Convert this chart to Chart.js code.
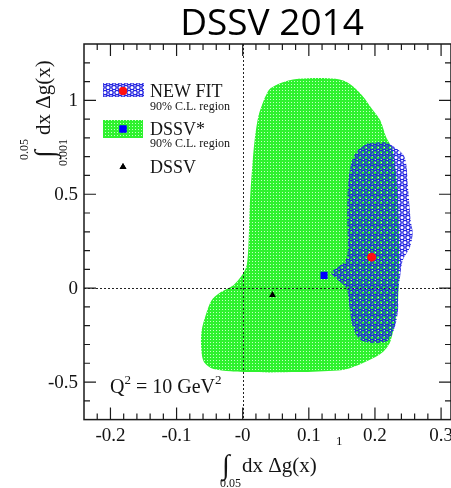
<!DOCTYPE html>
<html>
<head>
<meta charset="utf-8">
<script src="https://cdn.jsdelivr.net/npm/chart.js@4.4.1/dist/chart.umd.min.js"></script>
<style>
  html, body { margin: 0; padding: 0; background: #fff; overflow: hidden; }
  canvas { display: block; }
</style>
</head>
<body>
<canvas id="chart" width="456" height="488"></canvas>
<script>
// ── data ──────────────────────────────────────────────
// 90% C.L. region of DSSV* (green) and of the new fit (blue), as [x, y]
const dssvStarRegion = [
  [0.033, 1.011], [0.042, 1.064], [0.069, 1.106], [0.099, 1.117], [0.129, 1.117],
  [0.152, 1.106], [0.167, 1.074], [0.182, 1.021], [0.195, 0.957], [0.208, 0.894],
  [0.217, 0.803], [0.227, 0.734], [0.235, 0.468], [0.235, -0.064], [0.224, -0.277],
  [0.212, -0.340], [0.190, -0.385], [0.162, -0.426], [0.144, -0.438], [0.084, -0.447],
  [0.009, -0.447], [-0.044, -0.430], [-0.059, -0.390], [-0.063, -0.303], [-0.062, -0.223],
  [-0.056, -0.144], [-0.047, -0.064], [-0.033, -0.021], [-0.014, 0.016], [-0.002, 0.064],
  [0.006, 0.122], [0.009, 0.255], [0.011, 0.468], [0.014, 0.628], [0.018, 0.787],
  [0.024, 0.920], [0.033, 1.011]
];
const newFitRegion = [
  [0.189, 0.771], [0.215, 0.777], [0.230, 0.750], [0.245, 0.697], [0.250, 0.537],
  [0.254, 0.362], [0.257, 0.293], [0.253, 0.218], [0.242, 0.149], [0.238, 0.059],
  [0.235, -0.027], [0.235, -0.117], [0.230, -0.207], [0.220, -0.277], [0.200, -0.293],
  [0.179, -0.277], [0.170, -0.239], [0.164, -0.170], [0.159, -0.027], [0.156, 0.005],
  [0.144, 0.043], [0.134, 0.080], [0.144, 0.112], [0.156, 0.149], [0.159, 0.218],
  [0.158, 0.362], [0.159, 0.537], [0.164, 0.665], [0.174, 0.734], [0.189, 0.771]
];
const newFitPoint = [[0.195, 0.165]];
const dssvStarPoint = [[0.123, 0.068]];
const dssvPoint = [[0.045, -0.037]];

const xTickValues = [-0.2, -0.1, 0, 0.1, 0.2, 0.3];
const xTickLabels = ['-0.2', '-0.1', '-0', '0.1', '0.2', '0.3'];
const yTickValues = [-0.5, 0, 0.5, 1];
const yTickLabels = ['-0.5', '0', '0.5', '1'];

const legendNames = ['NEW FIT', 'DSSV*', 'DSSV'];
const legendNote = '90% C.L. region';
const chartTitle = 'DSSV 2014';

const INK = '#141414';
const SERIF = '"Liberation Serif", "Times New Roman", serif';

// ── fill patterns ─────────────────────────────────────
const canvas = document.getElementById('chart');
const ctx = canvas.getContext('2d');

function greenPattern() {
    const c = document.createElement('canvas');
    c.width = 3; c.height = 3;
    const g = c.getContext('2d');
    g.fillStyle = '#2ef22e';
    g.fillRect(0, 0, 3, 3);
    g.fillStyle = '#c4ffc4';
    g.fillRect(0, 0, 1, 1);
    return ctx.createPattern(c, 'repeat');
}

function bluePattern() {
    const c = document.createElement('canvas');
    c.width = 6; c.height = 10;
    const g = c.getContext('2d');
    g.strokeStyle = '#2020e0';
    g.lineWidth = 1.3;
    [[3, 2.5], [0, 7.5], [6, 7.5]].forEach(([cx, cy]) => {
        g.beginPath();
        g.arc(cx, cy, 2.2, 0, Math.PI * 2);
        g.stroke();
    });
    return ctx.createPattern(c, 'repeat');
}

const GREEN = greenPattern();
const BLUE = bluePattern();

const toXY = arr => arr.map(([x, y]) => ({ x, y }));

// ── decorations: frame, inward ticks, labels, legend ──
const decor = {
    id: 'decor',
    afterDatasetDraw(chart, args) {
        if (args.index !== 0) return;
        // dotted zero lines drawn over the green region
        const { ctx, chartArea: a, scales: { x, y } } = chart;
        const x0 = x.getPixelForValue(0);
        const y0 = y.getPixelForValue(0);
        ctx.save();
        ctx.strokeStyle = '#222';
        ctx.lineWidth = 1;
        ctx.setLineDash([2, 2]);
        ctx.beginPath();
        ctx.moveTo(Math.round(x0) + 0.5, a.top);
        ctx.lineTo(Math.round(x0) + 0.5, a.bottom);
        ctx.moveTo(a.left, Math.round(y0) + 0.5);
        ctx.lineTo(a.right, Math.round(y0) + 0.5);
        ctx.stroke();
        ctx.restore();
    },
    afterDraw(chart) {
        const { ctx, chartArea: a, scales: { x, y } } = chart;
        ctx.save();

        // frame
        ctx.strokeStyle = '#1a1a1a';
        ctx.lineWidth = 1.5;
        ctx.strokeRect(a.left, a.top, a.right - a.left, a.bottom - a.top);

        // ticks pointing inward
        ctx.lineWidth = 1.2;
        ctx.beginPath();
        for (let i = -12; i <= 16; i++) {
            const px = x.getPixelForValue(i * 0.02);
            if (px < a.left + 1 || px > a.right - 1) continue;
            const len = i % 5 === 0 ? 12 : 6;
            ctx.moveTo(px, a.bottom); ctx.lineTo(px, a.bottom - len);
            ctx.moveTo(px, a.top); ctx.lineTo(px, a.top + len);
        }
        for (let i = -7; i <= 13; i++) {
            const py = y.getPixelForValue(i * 0.1);
            if (py < a.top + 1 || py > a.bottom - 1) continue;
            const len = i % 5 === 0 ? 12 : 6;
            ctx.moveTo(a.left, py); ctx.lineTo(a.left + len, py);
            ctx.moveTo(a.right, py); ctx.lineTo(a.right - len, py);
        }
        ctx.stroke();

        // tick labels
        ctx.fillStyle = INK;
        ctx.font = '19px ' + SERIF;
        ctx.textAlign = 'center';
        ctx.textBaseline = 'alphabetic';
        xTickValues.forEach((v, i) => ctx.fillText(xTickLabels[i], x.getPixelForValue(v), a.bottom + 21));
        ctx.textAlign = 'right';
        ctx.textBaseline = 'middle';
        yTickValues.forEach((v, i) => ctx.fillText(yTickLabels[i], 78, y.getPixelForValue(v) + 1));

        // x axis title
        ctx.textAlign = 'left';
        ctx.textBaseline = 'alphabetic';
        ctx.font = '28px ' + SERIF;
        ctx.fillText('\u222B', 222, 474);
        ctx.font = '21px ' + SERIF;
        ctx.fillText('dx \u0394g(x)', 242, 472);
        ctx.font = '12px ' + SERIF;
        ctx.fillText('0.05', 220, 487);
        ctx.font = '13px ' + SERIF;
        ctx.fillText('1', 336, 445);

        // y axis title (rotated)
        ctx.save();
        ctx.translate(50, 168);
        ctx.rotate(-Math.PI / 2);
        ctx.font = '28px ' + SERIF;
        ctx.fillText('\u222B', 10, 4);
        ctx.font = '21px ' + SERIF;
        ctx.fillText('dx \u0394g(x)', 33, 0);
        ctx.font = '12px ' + SERIF;
        ctx.fillText('0.05', 8, -22);
        ctx.fillText('0.001', 2, 17);
        ctx.restore();

        // Q^2 label
        let qx = 110;
        const qy = 393;
        const put = (t, size, dy) => {
            ctx.font = size + 'px ' + SERIF;
            ctx.fillText(t, qx, qy + dy);
            qx += ctx.measureText(t).width;
        };
        put('Q', 20, 0); put('2', 13, -9); put(' = 10 GeV', 20, 0); put('2', 13, -9);

        // legend
        ctx.fillStyle = '#fff';
        ctx.fillRect(103, 83, 41, 14);
        ctx.fillStyle = BLUE;
        ctx.fillRect(103, 83, 41, 14);
        ctx.fillStyle = GREEN;
        ctx.fillRect(103, 120, 40, 18);
        ctx.fillStyle = '#ff1010';
        ctx.beginPath();
        Chart.helpers.drawPoint(ctx, { pointStyle: 'circle', radius: 4, borderWidth: 0 }, 123, 91);
        ctx.fill();
        ctx.fillStyle = '#0000ff';
        ctx.beginPath();
        Chart.helpers.drawPoint(ctx, { pointStyle: 'rect', radius: 5, borderWidth: 0 }, 123, 129);
        ctx.fill();
        ctx.fillStyle = '#000';
        ctx.beginPath();
        Chart.helpers.drawPoint(ctx, { pointStyle: 'triangle', radius: 4, borderWidth: 0 }, 123, 167);
        ctx.fill();

        ctx.fillStyle = INK;
        ctx.font = '18px ' + SERIF;
        ctx.fillText(legendNames[0], 150, 97);
        ctx.fillText(legendNames[1], 150, 135);
        ctx.fillText(legendNames[2], 150, 173);
        ctx.font = '12px ' + SERIF;
        ctx.fillText(legendNote, 150, 110);
        ctx.fillText(legendNote, 150, 147);

        // title
        ctx.fillStyle = '#000';
        ctx.font = '37px "Open Sans", "Noto Sans", sans-serif';
        ctx.textAlign = 'center';
        ctx.fillText(chartTitle, 272, 35);

        ctx.restore();
    }
};

new Chart(canvas, {
    type: 'scatter',
    data: {
        datasets: [
            {
                label: 'DSSV* 90% C.L.',
                data: toXY(dssvStarRegion),
                showLine: true,
                fill: 'shape',
                backgroundColor: GREEN,
                borderColor: 'rgba(0,0,0,0)',
                borderWidth: 0,
                pointRadius: 0,
                tension: 0.3,
                order: 5,
            },
            {
                label: 'NEW FIT 90% C.L.',
                data: toXY(newFitRegion),
                showLine: true,
                fill: 'shape',
                backgroundColor: BLUE,
                borderColor: 'rgba(0,0,0,0)',
                borderWidth: 0,
                pointRadius: 0,
                tension: 0.3,
                order: 4,
            },
            {
                label: legendNames[0],
                data: toXY(newFitPoint),
                pointStyle: 'circle',
                pointRadius: 4,
                backgroundColor: '#ff1010',
                borderColor: '#ff1010',
                order: 2,
            },
            {
                label: legendNames[1],
                data: toXY(dssvStarPoint),
                pointStyle: 'rect',
                pointRadius: 5,
                backgroundColor: '#0000ff',
                borderColor: '#0000ff',
                borderWidth: 0,
                order: 1,
            },
            {
                label: legendNames[2],
                data: toXY(dssvPoint),
                pointStyle: 'triangle',
                pointRadius: 4,
                backgroundColor: '#000',
                borderColor: '#000',
                borderWidth: 0,
                order: 0,
            },
        ],
    },
    options: {
        responsive: false,
        animation: false,
        devicePixelRatio: 1,
        layout: { padding: { left: 84, top: 44, right: 2.5, bottom: 68.4 } },
        scales: {
            x: { type: 'linear', min: -0.24, max: 0.315, display: false },
            y: { type: 'linear', min: -0.7, max: 1.3, display: false },
        },
        plugins: {
            legend: { display: false },
            tooltip: { enabled: false },
            title: { display: false },
        },
    },
    plugins: [decor],
});
</script>
</body>
</html>
